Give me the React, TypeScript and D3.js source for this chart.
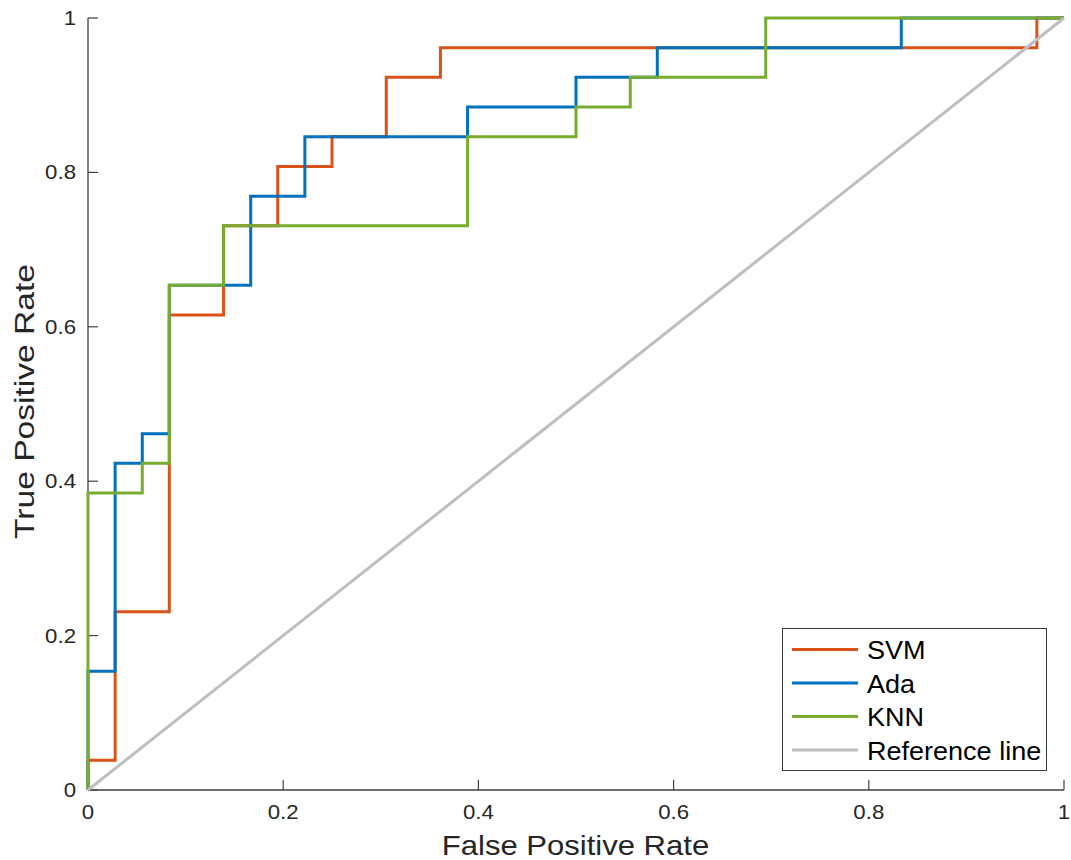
import React from "react";
import * as d3 from "d3";

const svmFpr = [0, 0, 0.0278, 0.0278, 0.0833, 0.0833, 0.1389, 0.1389, 0.1944, 0.1944, 0.25, 0.25, 0.3056, 0.3056, 0.3611, 0.3611, 0.9722, 0.9722, 1];
const svmTpr = [0, 0.0385, 0.0385, 0.2308, 0.2308, 0.6154, 0.6154, 0.7308, 0.7308, 0.8077, 0.8077, 0.8462, 0.8462, 0.9231, 0.9231, 0.9615, 0.9615, 1, 1];

const adaFpr = [0, 0, 0.0278, 0.0278, 0.0556, 0.0556, 0.0833, 0.0833, 0.1667, 0.1667, 0.2222, 0.2222, 0.3889, 0.3889, 0.5, 0.5, 0.5833, 0.5833, 0.8333, 0.8333, 1];
const adaTpr = [0, 0.1538, 0.1538, 0.4231, 0.4231, 0.4615, 0.4615, 0.6538, 0.6538, 0.7692, 0.7692, 0.8462, 0.8462, 0.8846, 0.8846, 0.9231, 0.9231, 0.9615, 0.9615, 1, 1];

const knnFpr = [0, 0, 0.0556, 0.0556, 0.0833, 0.0833, 0.1389, 0.1389, 0.3889, 0.3889, 0.5, 0.5, 0.5556, 0.5556, 0.6944, 0.6944, 1];
const knnTpr = [0, 0.3846, 0.3846, 0.4231, 0.4231, 0.6538, 0.6538, 0.7308, 0.7308, 0.8462, 0.8462, 0.8846, 0.8846, 0.9231, 0.9231, 1, 1];

const refFpr = [0, 1];
const refTpr = [0, 1];

const seriesNames = ["SVM", "Ada", "KNN", "Reference line"];
const seriesColors = ["#D95319", "#0072BD", "#77AC30", "#BFBFBF"];
const xTicks = [0, 0.2, 0.4, 0.6, 0.8, 1];
const yTicks = [0, 0.2, 0.4, 0.6, 0.8, 1];
const xLabel = "False Positive Rate";
const yLabel = "True Positive Rate";

const FONT = "'Liberation Sans', Arial, Helvetica, sans-serif";

function SText(props: {
  x: number; y: number; fs: number; sx: number; anchor: string; rotate?: number; fill?: string; children: string;
}) {
  const { x, y, fs, sx, anchor, rotate = 0, fill = "#262626", children } = props;
  return (
    <g transform={`translate(${x},${y}) rotate(${rotate}) scale(${sx},1)`}>
      <text x={0} y={0} fontSize={fs} fontFamily={FONT} textAnchor={anchor} fill={fill}>
        {children}
      </text>
    </g>
  );
}

export default function App() {
  const W = 1071, H = 860;
  const x = d3.scaleLinear().domain([0, 1]).range([88, 1064]);
  const y = d3.scaleLinear().domain([0, 1]).range([790, 18]);
  const line = d3.line<[number, number]>().x((d) => x(d[0])).y((d) => y(d[1]));
  const zipPts = (a: number[], b: number[]) => a.map((v, i) => [v, b[i]] as [number, number]);
  const series = [
    zipPts(svmFpr, svmTpr),
    zipPts(adaFpr, adaTpr),
    zipPts(knnFpr, knnTpr),
    zipPts(refFpr, refTpr),
  ];
  const axisColor = "#404040";
  const legX = 782.5, legY = 628.5, legW = 264, legH = 142;
  const rowY = [649.5, 683, 716.5, 750];

  return (
    <svg width={W} height={H} style={{ position: "absolute", left: 0, top: 0, background: "#fff" }}>
      <rect x={0} y={0} width={W} height={H} fill="#fff" />
      {/* axes */}
      <line x1={x(0)} x2={x(1)} y1={y(0)} y2={y(0)} stroke={axisColor} strokeWidth={1.3} />
      <line x1={x(0)} x2={x(0)} y1={y(0)} y2={y(1)} stroke={axisColor} strokeWidth={1.3} />
      {xTicks.map((t) => (
        <g key={"xt" + t}>
          <line x1={x(t)} x2={x(t)} y1={y(0)} y2={y(0) - 10} stroke={axisColor} strokeWidth={1.2} />
          <SText x={x(t)} y={818.5} fs={19.5} sx={1.14} anchor="middle">{String(t)}</SText>
        </g>
      ))}
      {yTicks.map((t) => (
        <g key={"yt" + t}>
          <line x1={x(0)} x2={x(0) + 10} y1={y(t)} y2={y(t)} stroke={axisColor} strokeWidth={1.2} />
          <SText x={76} y={y(t) + 7} fs={19.5} sx={1.14} anchor="end">{String(t)}</SText>
        </g>
      ))}
      <SText x={575.5} y={854.5} fs={27} sx={1.15} anchor="middle">{xLabel}</SText>
      <SText x={33.5} y={401.5} fs={28} sx={1.2} anchor="middle" rotate={-90}>{yLabel}</SText>
      {/* curves */}
      {series.map((pts, i) => (
        <path key={"s" + i} d={line(pts) || ""} fill="none" stroke={seriesColors[i]} strokeWidth={3} strokeLinejoin="miter" />
      ))}
      {/* legend */}
      <rect x={legX} y={legY} width={legW} height={legH} fill="#fff" stroke="#3a3a3a" strokeWidth={1} />
      {seriesNames.map((n, i) => (
        <g key={"l" + i}>
          <line x1={792} x2={858} y1={rowY[i]} y2={rowY[i]} stroke={seriesColors[i]} strokeWidth={3} />
          <SText x={867} y={rowY[i] + 9.5} fs={26.5} sx={1.02} anchor="start" fill="#000">{n}</SText>
        </g>
      ))}
    </svg>
  );
}
